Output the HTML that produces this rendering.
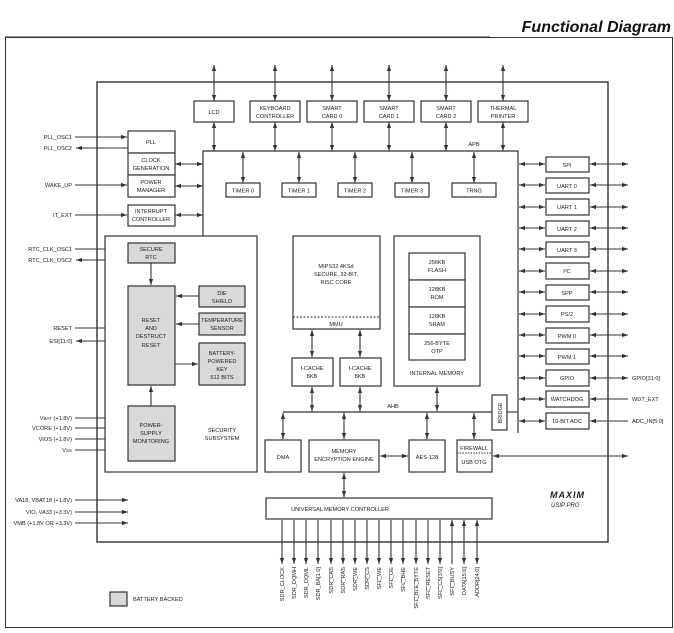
<!DOCTYPE html>
<html><head><meta charset="utf-8"><style>
html,body{margin:0;padding:0;background:#fff}
svg{display:block}
text{font-family:"Liberation Sans",sans-serif;font-size:5.6px;fill:#222}
.b{fill:#fff;stroke:#333;stroke-width:1.2}
.g{fill:#d9d9d9;stroke:#333;stroke-width:1.2}
.l{stroke:#333;stroke-width:1.1;fill:none}
.a{stroke:#333;stroke-width:1.1;fill:none;marker-end:url(#ah)}
.d{stroke:#333;stroke-width:1.1;fill:none;marker-end:url(#ah);marker-start:url(#ah)}
.c{text-anchor:middle}
.r{text-anchor:end}
</style></head><body>
<svg width="674" height="633" viewBox="0 0 674 633" xmlns="http://www.w3.org/2000/svg">
<defs><marker id="ah" viewBox="0 0 10 10" refX="10" refY="5" markerWidth="6" markerHeight="6" orient="auto-start-reverse" markerUnits="userSpaceOnUse"><path d="M0,1.5 L10,5 L0,8.5z" fill="#333"/></marker></defs>
<text x="671" y="32" style="font-size:16px;font-weight:bold;font-style:italic;fill:#111" text-anchor="end">Functional Diagram</text>
<line x1="5" y1="37" x2="490" y2="37" stroke="#333" stroke-width="1"/>
<rect x="5.5" y="37.5" width="667" height="590" fill="none" stroke="#333" stroke-width="1"/>
<rect x="97" y="82" width="511" height="460" fill="none" stroke="#222" stroke-width="1.3"/>

<!-- top peripherals -->
<g>
<path class="d" d="M214,65V101"/><path class="d" d="M275,65V101"/><path class="d" d="M332,65V101"/><path class="d" d="M389,65V101"/><path class="d" d="M446,65V101"/><path class="d" d="M503,65V101"/>
<path class="d" d="M214,122V151"/><path class="d" d="M275,122V151"/><path class="d" d="M332,122V151"/><path class="d" d="M389,122V151"/><path class="d" d="M446,122V151"/><path class="d" d="M503,122V151"/>
<rect class="b" x="194" y="101" width="40" height="21"/><text class="c" x="214" y="114">LCD</text>
<rect class="b" x="250" y="101" width="50" height="21"/><text class="c" x="275" y="110">KEYBOARD</text><text class="c" x="275" y="118">CONTROLLER</text>
<rect class="b" x="307" y="101" width="50" height="21"/><text class="c" x="332" y="110">SMART</text><text class="c" x="332" y="118">CARD 0</text>
<rect class="b" x="364" y="101" width="50" height="21"/><text class="c" x="389" y="110">SMART</text><text class="c" x="389" y="118">CARD 1</text>
<rect class="b" x="421" y="101" width="50" height="21"/><text class="c" x="446" y="110">SMART</text><text class="c" x="446" y="118">CARD 2</text>
<rect class="b" x="478" y="101" width="50" height="21"/><text class="c" x="503" y="110">THERMAL</text><text class="c" x="503" y="118">PRINTER</text>
</g>
<!-- APB -->
<path class="l" d="M203,236V151H518V433" style="stroke-width:1.2"/>
<text class="c" x="474" y="146">APB</text>
<path class="d" d="M243,152V183"/><path class="d" d="M299,152V183"/><path class="d" d="M355,152V183"/><path class="d" d="M412,152V183"/><path class="d" d="M474,152V183"/>
<rect class="b" x="226" y="183" width="34" height="14"/><text class="c" x="243" y="192.5">TIMER 0</text>
<rect class="b" x="282" y="183" width="34" height="14"/><text class="c" x="299" y="192.5">TIMER 1</text>
<rect class="b" x="338" y="183" width="34" height="14"/><text class="c" x="355" y="192.5">TIMER 2</text>
<rect class="b" x="395" y="183" width="34" height="14"/><text class="c" x="412" y="192.5">TIMER 3</text>
<rect class="b" x="452" y="183" width="44" height="14"/><text class="c" x="474" y="192.5">TRNG</text>

<!-- left blocks -->
<rect class="b" x="128" y="131" width="47" height="22"/><text class="c" x="151" y="144">PLL</text>
<rect class="b" x="128" y="153" width="47" height="22"/><text class="c" x="151" y="162">CLOCK</text><text class="c" x="151" y="170">GENERATION</text>
<rect class="b" x="128" y="175" width="47" height="22"/><text class="c" x="151" y="184">POWER</text><text class="c" x="151" y="192">MANAGER</text>
<rect class="b" x="128" y="205" width="47" height="21"/><text class="c" x="151" y="213">INTERRUPT</text><text class="c" x="151" y="221">CONTROLLER</text>
<path class="d" d="M175,164H203"/><path class="d" d="M175,186H203"/><path class="d" d="M175,215H203"/>
<path class="a" d="M75,137H127"/><path class="a" d="M75,185H127"/><path class="a" d="M75,215H127"/><path class="a" d="M75,249H127"/><path class="a" d="M75,328H127"/>
<path class="a" d="M75,418H127"/><path class="a" d="M75,428H127"/><path class="a" d="M75,439H127"/><path class="a" d="M75,450H127"/>
<path class="a" d="M75,500H128"/><path class="a" d="M75,512H128"/><path class="a" d="M75,523H128"/>
<path class="a" d="M128,148H76"/><path class="a" d="M128,260H76"/>
<path class="d" d="M76,341H127"/>
<g class="r">
<text x="72" y="139">PLL_OSC1</text><text x="72" y="150">PLL_OSC2</text>
<text x="72" y="187">WAKE_UP</text><text x="72" y="217">IT_EXT</text>
<text x="72" y="251">RTC_CLK_OSC1</text><text x="72" y="262">RTC_CLK_OSC2</text>
<text x="72" y="330" text-decoration="overline">RESET</text><text x="72" y="343">ESI[11:0]</text>
<text x="72" y="420">V<tspan style="font-size:4.5px">BAT</tspan> (+1.8V)</text>
<text x="72" y="430">VCORE (+1.8V)</text><text x="72" y="441">VIOS (+1.8V)</text>
<text x="72" y="452">V<tspan style="font-size:4.5px">SS</tspan></text>
<text x="72" y="502">VA18, VBAT18 (+1.8V)</text><text x="72" y="514">VIO, VA33 (+3.3V)</text><text x="72" y="525">VMB (+1.8V OR +3.3V)</text>
</g>

<!-- security -->
<rect class="b" x="105" y="236" width="152" height="236"/>
<rect class="g" x="128" y="243" width="47" height="20"/><text class="c" x="151" y="251">SECURE</text><text class="c" x="151" y="259">RTC</text>
<path class="a" d="M151,263V285"/>
<rect class="g" x="128" y="286" width="47" height="99"/><text class="c" x="151" y="322">RESET</text><text class="c" x="151" y="330">AND</text><text class="c" x="151" y="338">DESTRUCT</text><text class="c" x="151" y="347">RESET</text>
<rect class="g" x="199" y="286" width="46" height="21"/><text class="c" x="222" y="295">DIE</text><text class="c" x="222" y="303">SHIELD</text>
<rect class="g" x="199" y="313" width="46" height="22"/><text class="c" x="222" y="322">TEMPERATURE</text><text class="c" x="222" y="330">SENSOR</text>
<rect class="g" x="199" y="343" width="46" height="42"/><text class="c" x="222" y="355">BATTERY-</text><text class="c" x="222" y="363">POWERED</text><text class="c" x="222" y="371">KEY</text><text class="c" x="222" y="379">512 BITS</text>
<path class="a" d="M199,296H176"/><path class="a" d="M199,324H176"/><path class="a" d="M175,364H198"/><path class="a" d="M151,406V386"/>
<rect class="g" x="128" y="406" width="47" height="55"/><text class="c" x="151" y="427">POWER-</text><text class="c" x="151" y="435">SUPPLY</text><text class="c" x="151" y="443">MONITORING</text>
<text class="c" x="222" y="432">SECURITY</text><text class="c" x="222" y="440">SUBSYSTEM</text>

<!-- core -->
<rect class="b" x="293" y="236" width="87" height="93"/>
<line x1="293" y1="317" x2="380" y2="317" stroke="#333" stroke-dasharray="2,1.5" stroke-width="0.9"/>
<text class="c" x="336" y="268">MIPS32 4KSd</text><text class="c" x="336" y="276">SECURE, 32-BIT,</text><text class="c" x="336" y="284">RISC CORE</text>
<text class="c" x="336" y="326">MMU</text>
<rect class="b" x="394" y="236" width="86" height="150"/>
<rect class="b" x="409" y="253" width="56" height="27"/><text class="c" x="437" y="264">256KB</text><text class="c" x="437" y="272">FLASH</text>
<rect class="b" x="409" y="280" width="56" height="27"/><text class="c" x="437" y="291">128KB</text><text class="c" x="437" y="299">ROM</text>
<rect class="b" x="409" y="307" width="56" height="27"/><text class="c" x="437" y="318">128KB</text><text class="c" x="437" y="326">SRAM</text>
<rect class="b" x="409" y="334" width="56" height="26"/><text class="c" x="437" y="345">256-BYTE</text><text class="c" x="437" y="353">OTP</text>
<text class="c" x="437" y="375">INTERNAL MEMORY</text>
<rect class="b" x="292" y="358" width="41" height="28"/><text class="c" x="312" y="370">I-CACHE</text><text class="c" x="312" y="378">8KB</text>
<rect class="b" x="340" y="358" width="41" height="28"/><text class="c" x="360" y="370">I-CACHE</text><text class="c" x="360" y="378">8KB</text>
<path class="d" d="M312,330V357"/><path class="d" d="M360,330V357"/><path class="d" d="M312,387V411"/><path class="d" d="M360,387V411"/><path class="d" d="M437,387V411"/>
<line x1="283" y1="412" x2="492" y2="412" stroke="#333" stroke-width="1.2"/>
<text class="c" x="393" y="408">AHB</text>
<rect class="b" x="492" y="395" width="15" height="35"/>
<text x="502" y="413" class="c" transform="rotate(-90 502 413)" style="font-size:5.5px">BRIDGE</text>
<line x1="507" y1="412" x2="518" y2="412" class="l"/>
<path class="d" d="M283,413V439"/><path class="d" d="M344,413V439"/><path class="d" d="M427,413V439"/><path class="d" d="M474,413V439"/><path class="d" d="M344,473V497"/>
<rect class="b" x="265" y="440" width="36" height="32"/><text class="c" x="283" y="459">DMA</text>
<rect class="b" x="309" y="440" width="70" height="32"/><text class="c" x="344" y="453">MEMORY</text><text class="c" x="344" y="461">ENCRYPTION ENGINE</text>
<rect class="b" x="409" y="440" width="36" height="32"/><text class="c" x="427" y="459">AES-128</text>
<rect class="b" x="457" y="440" width="35" height="32"/>
<line x1="457" y1="453" x2="492" y2="453" stroke="#333" stroke-dasharray="1.5,1.2" stroke-width="0.9"/>
<text class="c" x="474" y="450">FIREWALL</text><text class="c" x="474" y="464">USB OTG</text>
<path class="d" d="M380,456H408"/><path class="d" d="M493,456H628"/>
<rect class="b" x="266" y="498" width="226" height="21"/><text class="c" x="340" y="511">UNIVERSAL MEMORY CONTROLLER</text>

<!-- right peripherals -->
<g>
<path class="d" d="M519,164H545"/><path class="d" d="M519,185H545"/><path class="d" d="M519,207H545"/><path class="d" d="M519,228H545"/><path class="d" d="M519,249H545"/><path class="d" d="M519,271H545"/><path class="d" d="M519,292H545"/><path class="d" d="M519,314H545"/><path class="d" d="M519,335H545"/><path class="d" d="M519,356H545"/><path class="d" d="M519,378H545"/><path class="d" d="M519,399H545"/><path class="d" d="M519,421H545"/>
<path class="d" d="M590,164H628"/><path class="d" d="M590,185H628"/><path class="d" d="M590,207H628"/><path class="d" d="M590,228H628"/><path class="d" d="M590,249H628"/><path class="d" d="M590,271H628"/><path class="d" d="M590,292H628"/><path class="d" d="M590,314H628"/><path class="d" d="M590,335H628"/><path class="d" d="M590,356H628"/><path class="d" d="M590,378H628"/>
<path class="a" d="M628,399H590"/><path class="a" d="M628,421H590"/>
<rect class="b" x="546" y="157" width="43" height="15"/><text class="c" x="567" y="167">SPI</text>
<rect class="b" x="546" y="178" width="43" height="15"/><text class="c" x="567" y="188">UART 0</text>
<rect class="b" x="546" y="199" width="43" height="16"/><text class="c" x="567" y="209">UART 1</text>
<rect class="b" x="546" y="221" width="43" height="15"/><text class="c" x="567" y="231">UART 2</text>
<rect class="b" x="546" y="242" width="43" height="15"/><text class="c" x="567" y="252">UART 3</text>
<rect class="b" x="546" y="263" width="43" height="16"/><text class="c" x="567" y="273">I²C</text>
<rect class="b" x="546" y="285" width="43" height="15"/><text class="c" x="567" y="295">SPP</text>
<rect class="b" x="546" y="306" width="43" height="16"/><text class="c" x="567" y="316">PS/2</text>
<rect class="b" x="546" y="328" width="43" height="15"/><text class="c" x="567" y="338">PWM 0</text>
<rect class="b" x="546" y="349" width="43" height="15"/><text class="c" x="567" y="359">PWM 1</text>
<rect class="b" x="546" y="370" width="43" height="16"/><text class="c" x="567" y="380">GPIO</text>
<rect class="b" x="546" y="391" width="43" height="16"/><text class="c" x="567" y="401">WATCHDOG</text>
<rect class="b" x="546" y="413" width="43" height="16"/><text class="c" x="567" y="423">10-BIT ADC</text>
<text x="632" y="380">GPIO[31:0]</text><text x="632" y="401">WDT_EXT</text><text x="632" y="423">ADC_IN[5:0]</text>
</g>

<text x="550" y="498" style="font-size:9px;font-weight:bold;font-style:italic;letter-spacing:1px">MAXIM</text>
<text x="551" y="507" style="font-size:6px;font-style:italic">USIP PRO</text>

<!-- bottom pins -->
<path class="a" d="M282,520V564"/><path class="a" d="M294,520V564"/><path class="a" d="M306,520V564"/><path class="a" d="M318,520V564"/><path class="a" d="M331,520V564"/><path class="a" d="M343,520V564"/><path class="a" d="M355,520V564"/><path class="a" d="M367,520V564"/><path class="a" d="M379,520V564"/><path class="a" d="M391,520V564"/><path class="a" d="M403,520V564"/><path class="a" d="M416,520V564"/><path class="a" d="M428,520V564"/><path class="a" d="M440,520V564"/>
<path class="a" d="M452,564V520"/>
<path class="d" d="M464,564V520"/><path class="d" d="M477,520V564"/>
<g class="r" style="font-size:5.2px">
<text transform="translate(284,567) rotate(-90)">SDR_CLOCK</text>
<text transform="translate(296,567) rotate(-90)">SDR_DQMH</text>
<text transform="translate(308,567) rotate(-90)">SDR_DQML</text>
<text transform="translate(320,567) rotate(-90)">SDR_BA[1:0]</text>
<text transform="translate(333,567) rotate(-90)" text-decoration="overline">SDR_CAS</text>
<text transform="translate(345,567) rotate(-90)" text-decoration="overline">SDR_RAS</text>
<text transform="translate(357,567) rotate(-90)" text-decoration="overline">SDR_WE</text>
<text transform="translate(369,567) rotate(-90)" text-decoration="overline">SDR_CS</text>
<text transform="translate(381,567) rotate(-90)" text-decoration="overline">SFL_WE</text>
<text transform="translate(393,567) rotate(-90)" text-decoration="overline">SFL_OE</text>
<text transform="translate(405,567) rotate(-90)" text-decoration="overline">SFL_BHE</text>
<text transform="translate(418,567) rotate(-90)" text-decoration="overline">SFL_BLE_BYTE</text>
<text transform="translate(430,567) rotate(-90)" text-decoration="overline">SFL_RESET</text>
<text transform="translate(442,567) rotate(-90)" text-decoration="overline">SFL_CS[3:0]</text>
<text transform="translate(454,567) rotate(-90)" text-decoration="overline">SFL_BUSY</text>
<text transform="translate(466,567) rotate(-90)">DATA[15:0]</text>
<text transform="translate(479,567) rotate(-90)">ADDR[24:0]</text>
</g>

<rect class="g" x="110" y="592" width="17" height="14"/>
<text x="133" y="601">BATTERY BACKED</text>
</svg>
</body></html>
